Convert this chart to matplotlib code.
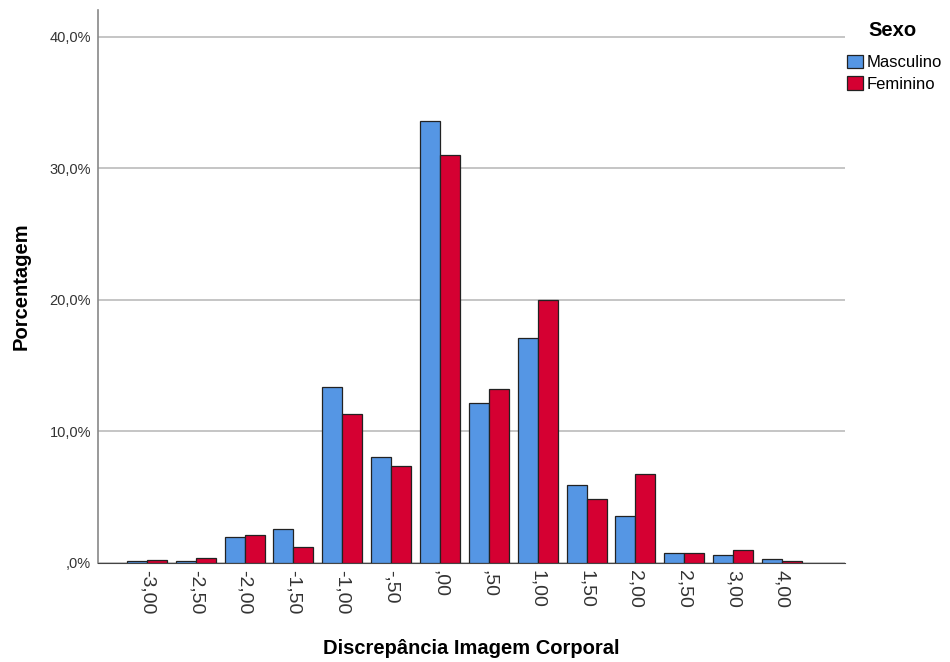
import matplotlib
matplotlib.use("Agg")
import matplotlib.pyplot as plt
import numpy as np

plt.rcParams['font.family'] = ['Liberation Sans', 'DejaVu Sans']

categories = ["-3,00", "-2,50", "-2,00", "-1,50", "-1,00", "-,50", ",00", ",50",
              "1,00", "1,50", "2,00", "2,50", "3,00", "4,00"]
masculino = [0.15, 0.15, 2.0, 2.55, 13.4, 8.05, 33.6, 12.2, 17.1, 5.9, 3.6, 0.75, 0.6, 0.33]
feminino = [0.25, 0.4, 2.1, 1.2, 11.3, 7.4, 31.0, 13.2, 20.0, 4.85, 6.8, 0.75, 1.0, 0.13]
yticks = [0, 10, 20, 30, 40]
ytick_labels = [",0%", "10,0%", "20,0%", "30,0%", "40,0%"]

fig = plt.figure(figsize=(9.5, 6.62), dpi=100)
ax = fig.add_axes([98/950, 1-563/662, (845-98)/950, (563-10)/662])

x = np.arange(len(categories))
w = 0.41
blue = '#5596E4'
red = '#D50032'
ax.bar(x - w/2, masculino, width=w, color=blue, edgecolor='#222222', linewidth=0.9,
       label='Masculino', zorder=3)
ax.bar(x + w/2, feminino, width=w, color=red, edgecolor='#222222', linewidth=0.9,
       label='Feminino', zorder=3)

ax.set_xlim(-1.0, 14.29)
ax.set_ylim(0, 42.05)
ax.set_yticks(yticks)
ax.set_yticklabels(ytick_labels, fontsize=10.5, color='#333333')
ax.set_xticks(x)
ax.set_xticklabels(categories, rotation=-90, fontsize=14, color='#333333')
ax.tick_params(axis='x', length=0, pad=5)
ax.tick_params(axis='y', length=0, pad=5)
ax.yaxis.grid(True, color='#BBBBBB', linewidth=1.2, zorder=0)
for s in ['top', 'right']:
    ax.spines[s].set_visible(False)
ax.spines['left'].set_color('#888888')
ax.spines['bottom'].set_color('#444444')
ax.spines['left'].set_linewidth(1.2)

ax.set_ylabel('Porcentagem', fontsize=14.5, fontweight='bold')
ax.set_xlabel('Discrepância Imagem Corporal', fontsize=14.5, fontweight='bold')
ax.xaxis.set_label_coords(0.5, -0.138)
ax.yaxis.set_label_coords(-0.09, 0.5)

leg = fig.legend(loc='upper left', bbox_to_anchor=(847/950, 1-55/662),
                 frameon=False, fontsize=12, handlelength=0.95, handleheight=0.85,
                 handletextpad=0.2, labelspacing=0.35, borderaxespad=0, borderpad=0)
fig.text(868/950, 1-30/662, 'Sexo', fontsize=14.5, fontweight='bold', va='center', ha='left')

fig.savefig('out.png', dpi=100)
